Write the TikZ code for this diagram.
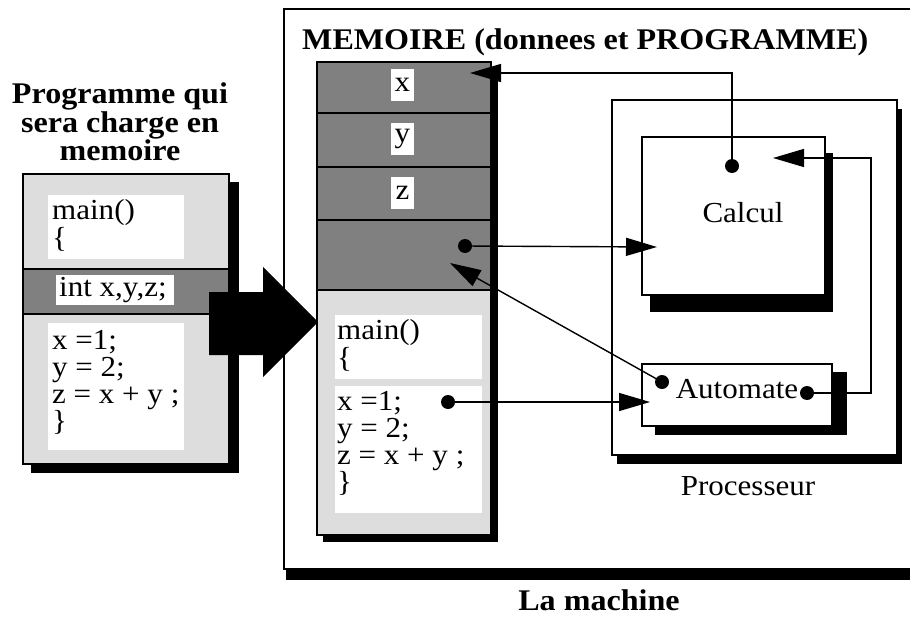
\documentclass[tikz,border=0pt]{standalone}
\usepackage{fontspec}
\setmainfont[FakeStretch=1.07]{Liberation Serif}
\usetikzlibrary{arrows.meta}
\definecolor{lightg}{HTML}{DDDDDD}
\definecolor{darkg}{HTML}{808080}
\tikzset{
  txt/.style={font=\fontsize{29}{29}\selectfont, inner sep=0pt, anchor=base west},
  ttl/.style={font=\bfseries\fontsize{30}{30}\selectfont, inner sep=0pt, anchor=base},
  lbl/.style={font=\fontsize{29}{29}\selectfont, inner sep=0pt, anchor=base},
  cell/.style={fill=white, inner sep=0pt, minimum width=23pt, minimum height=32pt, font=\fontsize{29}{29}\selectfont},
  dot/.style={circle, fill=black, inner sep=0pt, minimum size=14pt},
  conn/.style={line width=1.4pt, -{Triangle[length=31pt,width=18pt]}},
  frame/.style={line width=1.2pt},
}
\begin{document}
\begin{tikzpicture}[x=1pt,y=-1pt]
\useasboundingbox (0,0) rectangle (910,618);
\clip (0,0) rectangle (910,618);
\fill[white] (0,0) rectangle (910,618);

% ---- Left program box ----
\node[ttl] (t1) at (120,103) {Programme qui};
\node[ttl] (t2) at (120,132) {sera charge en};
\node[ttl] (t3) at (120,160) {memoire};
\fill (31,182) rectangle (239,473);
\filldraw[frame, fill=lightg] (23,174) rectangle (229,464);
\filldraw[line width=2pt, fill=darkg] (23,269) rectangle (229,314);
\fill[white] (48,195) rectangle (184,259);
\fill[white] (56,275) rectangle (174,305);
\fill[white] (48,323) rectangle (184,450);
\node[txt] (p1) at (52,219) {main()};
\node[txt] (p2) at (52,247) {\{};
\node[txt] (p3) at (59,296) {int x,y,z;};
\node[txt] (p4) at (52,349) {x =1;};
\node[txt] (p5) at (52,376) {y = 2;};
\node[txt] (p6) at (52,403) {z = x + y ;};
\node[txt] (p7) at (52,430) {\}};

% ---- Machine ----
\fill (286,569) rectangle (930,580);
\draw[frame] (284,9) rectangle (930,569);
\node[ttl, anchor=base west] (mem) at (302,50) {MEMOIRE (donnees et PROGRAMME)};
\node[ttl] (mach) at (599,610) {La machine};

% ---- Big arrow ----
\fill (209,292) -- (263,292) -- (263,267) -- (318,322) -- (263,377) -- (263,355) -- (209,355) -- cycle;

% ---- Memory column ----
\fill (323,68) rectangle (498,542);
\filldraw[frame, fill=darkg] (317,62) rectangle (491,290);
\draw[line width=1.5pt] (317,113) -- (491,113);
\draw[line width=1.5pt] (317,167) -- (491,167);
\draw[line width=1.5pt] (317,220) -- (491,220);
\filldraw[frame, fill=lightg] (317,290) rectangle (491,535);
\draw[line width=2.5pt] (317,290) -- (491,290);
\node[cell] (cx) at (402.5,85) {x};
\node[cell] (cy) at (402.5,139) {y};
\node[cell] (cz) at (402.5,192.5) {z};
\fill[white] (335,315) rectangle (482,379);
\fill[white] (335,386) rectangle (482,513);
\node[txt] (m1) at (337,339) {main()};
\node[txt] (m2) at (337,367) {\{};
\node[txt] (m3) at (337,410) {x =1;};
\node[txt] (m4) at (337,437) {y = 2;};
\node[txt] (m5) at (337,464) {z = x + y ;};
\node[txt] (m6) at (337,491) {\}};

% ---- Processor ----
\fill (617,109) rectangle (902,464);
\filldraw[frame, fill=white] (612,100) rectangle (897,455);
\node[lbl] (proc) at (748,495) {Processeur};

\fill (650,153) rectangle (833,312);
\filldraw[frame, fill=white] (642,137) rectangle (825,295);
\node[lbl] (calc) at (743,222) {Calcul};

\fill (655,372) rectangle (847,435);
\filldraw[frame, fill=white] (642,364) rectangle (832,426);
\node[lbl] (auto) at (737,398) {Automate};

% ---- Connectors ----
\node[dot] (dA) at (465,246) {};
\node[dot] (dB) at (448,402) {};
\node[dot] (dC) at (732,166) {};
\node[dot] (dD) at (807,393) {};
\node[dot] (dE) at (662,382) {};
\coordinate (calcIn) at (657,247);
\coordinate (autoIn) at (650,402);
\coordinate (xIn) at (470,73);
\coordinate (calcTop) at (773,158);
\coordinate (rk) at (871,393);
\coordinate (memIn) at (450,263);

\draw[conn] (dA.center) -- (calcIn);
\draw[conn] (dB.center) -- (autoIn);
\draw[conn] (dC.center) |- (xIn);
\draw[conn] (dD.center) -- (rk) |- (calcTop);
\draw[conn] (dE.center) -- (memIn);
\end{tikzpicture}
\end{document}
